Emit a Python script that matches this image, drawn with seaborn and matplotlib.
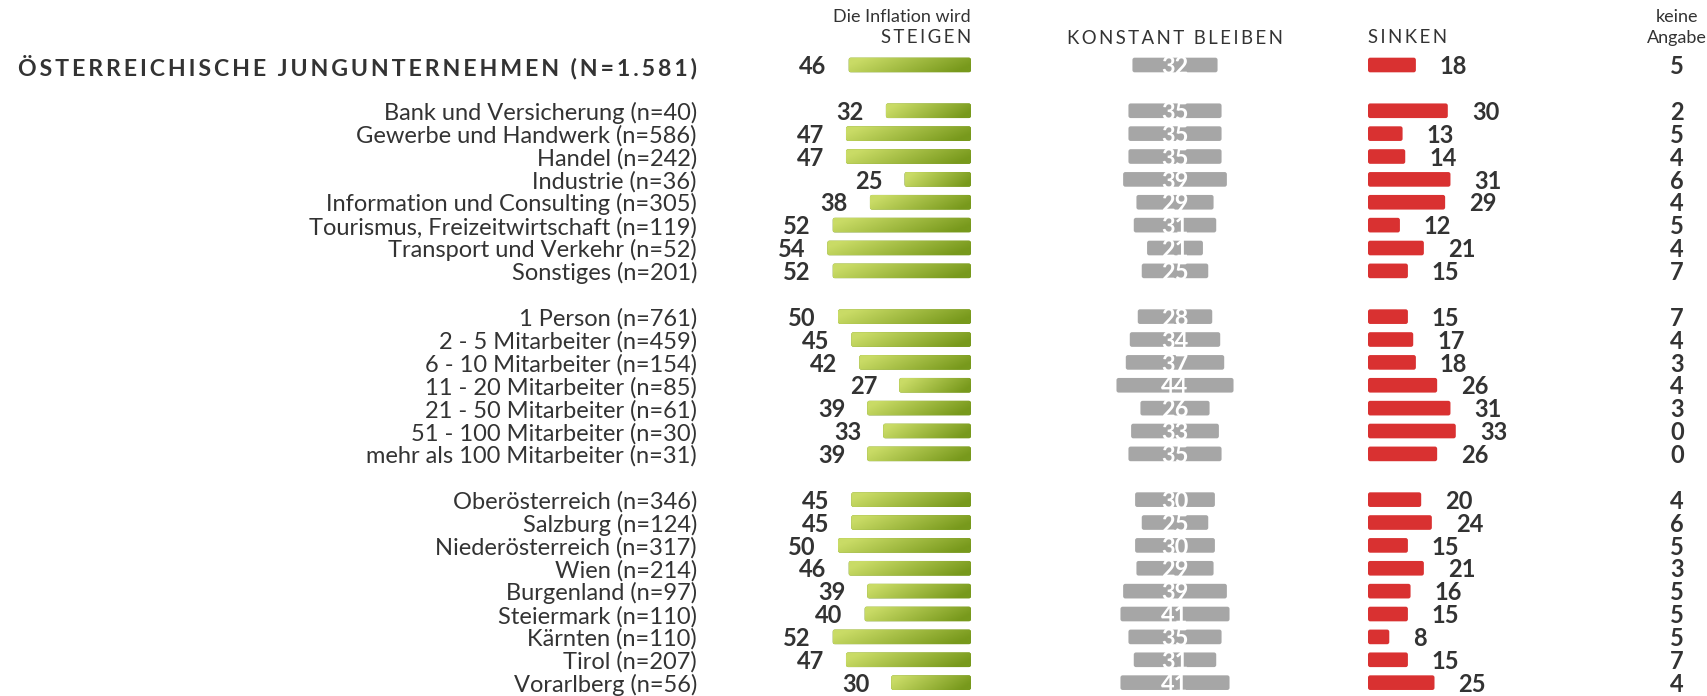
import numpy as np
import pandas as pd
import matplotlib
matplotlib.use("Agg")
import matplotlib.pyplot as plt
import seaborn as sns
from matplotlib.patches import FancyBboxPatch

# Werte aus der Grafik (Prozent)
total_labels = ["ÖSTERREICHISCHE JUNGUNTERNEHMEN (N=1.581)"]
total_steigen = [46]
total_konstant = [32]
total_sinken = [18]
total_keine = [5]

branche_labels = ["Bank und Versicherung (n=40)", "Gewerbe und Handwerk (n=586)",
                  "Handel (n=242)", "Industrie (n=36)",
                  "Information und Consulting (n=305)",
                  "Tourismus, Freizeitwirtschaft (n=119)",
                  "Transport und Verkehr (n=52)", "Sonstiges (n=201)"]
branche_steigen = [32, 47, 47, 25, 38, 52, 54, 52]
branche_konstant = [35, 35, 35, 39, 29, 31, 21, 25]
branche_sinken = [30, 13, 14, 31, 29, 12, 21, 15]
branche_keine = [2, 5, 4, 6, 4, 5, 4, 7]

groesse_labels = ["1 Person (n=761)", "2 - 5 Mitarbeiter (n=459)",
                  "6 - 10 Mitarbeiter (n=154)", "11 - 20 Mitarbeiter (n=85)",
                  "21 - 50 Mitarbeiter (n=61)", "51 - 100 Mitarbeiter (n=30)",
                  "mehr als 100 Mitarbeiter (n=31)"]
groesse_steigen = [50, 45, 42, 27, 39, 33, 39]
groesse_konstant = [28, 34, 37, 44, 26, 33, 35]
groesse_sinken = [15, 17, 18, 26, 31, 33, 26]
groesse_keine = [7, 4, 3, 4, 3, 0, 0]

land_labels = ["Oberösterreich (n=346)", "Salzburg (n=124)",
               "Niederösterreich (n=317)", "Wien (n=214)", "Burgenland (n=97)",
               "Steiermark (n=110)", "Kärnten (n=110)", "Tirol (n=207)",
               "Vorarlberg (n=56)"]
land_steigen = [45, 45, 50, 46, 39, 40, 52, 47, 30]
land_konstant = [30, 25, 30, 29, 39, 41, 35, 31, 41]
land_sinken = [20, 24, 15, 21, 16, 15, 8, 15, 25]
land_keine = [4, 6, 5, 3, 5, 5, 5, 7, 4]

groups = [
    (total_labels, total_steigen, total_konstant, total_sinken, total_keine),
    (branche_labels, branche_steigen, branche_konstant, branche_sinken, branche_keine),
    (groesse_labels, groesse_steigen, groesse_konstant, groesse_sinken, groesse_keine),
    (land_labels, land_steigen, land_konstant, land_sinken, land_keine),
]

# Zeilen mit Leerzeile zwischen den Gruppen
rows = []
pos = 0
for labels, st, ko, si, ke in groups:
    for i in range(len(labels)):
        rows.append(dict(label=labels[i], pos=pos, steigen=st[i],
                         konstant=ko[i], sinken=si[i], keine=ke[i]))
        pos += 1
    pos += 1
df = pd.DataFrame(rows)

# Layout in Pixeln
W, H = 1707, 696
PX = 2.66            # Pixel pro Prozentpunkt
ROW_PX = 22.876      # Pixel pro Zeile
ROW0 = 65.0          # y-Pixel der ersten Zeile
G_RIGHT = 971
K_CENTER = 1175
S_LEFT = 1368
N_CENTER = 1677
LABEL_RIGHT = 697
BAR_H = 0.64
BASE = 0.40          # Grundlinie der Zahlen unter Balkenmitte (Zeilen)

TEXT = "#333333"
GRAY = "#a6a6a6"
RED = "#d93131"
GREEN_LIGHT = np.array([0.79, 0.86, 0.40])
GREEN_DARK = np.array([0.47, 0.60, 0.11])

sns.set_theme(style="white")
plt.rcParams["font.family"] = ["Lato", "DejaVu Sans"]


def spaced(s):
    return "\u2009".join(s)


def row_y(px):
    return (px - ROW0) / ROW_PX


fig = plt.figure(figsize=(W / 100, H / 100), dpi=100)
g_w = 180
ax_g = fig.add_axes([(G_RIGHT - g_w) / W, 0, g_w / W, 1])
ax_k = fig.add_axes([(K_CENTER - 100) / W, 0, 200 / W, 1])
ax_s = fig.add_axes([S_LEFT / W, 0, 200 / W, 1])
ax_n = fig.add_axes([(N_CENTER - 30) / W, 0, 60 / W, 1])

for ax, col in [(ax_g, "steigen"), (ax_k, "konstant"), (ax_s, "sinken")]:
    sns.barplot(data=df, x=col, y="pos", orient="h", native_scale=True,
                width=BAR_H, color=GRAY, errorbar=None, ax=ax)

asp = PX / ROW_PX
r = 2.2 / PX


def round_bars(ax, color, center=False):
    new = []
    for p in list(ax.patches):
        x, y, w, h = p.get_x(), p.get_y(), p.get_width(), p.get_height()
        p.remove()
        if center:
            x = -w / 2
        fb = FancyBboxPatch((x, y), w, h, boxstyle=f"round,pad=0,rounding_size={min(r, w / 2)}",
                            mutation_aspect=asp, facecolor=color, edgecolor="none")
        ax.add_patch(fb)
        new.append((fb, x, y, w, h))
    return new


green_bars = round_bars(ax_g, GREEN_DARK)
round_bars(ax_k, GRAY, center=True)
round_bars(ax_s, RED)

# Verlauf hell -> dunkel in jedem grünen Balken
nx, ny = 128, 8
u = np.linspace(0, 1, nx)[None, :] + 0.12 * np.linspace(-1, 1, ny)[:, None]
u = np.clip(u, 0, 1)
grad = GREEN_LIGHT[None, None, :] * (1 - u[..., None]) + GREEN_DARK[None, None, :] * u[..., None]
for fb, x, y, w, h in green_bars:
    im = ax_g.imshow(grad, extent=(x + w, x, y + h, y), aspect="auto",
                     interpolation="bilinear", zorder=fb.get_zorder() + 0.1)
    im.set_clip_path(fb)

ax_g.set_xlim(g_w / PX, 0)
ax_k.set_xlim(-100 / PX, 100 / PX)
ax_s.set_xlim(0, 200 / PX)
ax_n.set_xlim(0, 1)

for ax in (ax_g, ax_k, ax_s, ax_n):
    ax.set_ylim((H - ROW0) / ROW_PX, -ROW0 / ROW_PX)
    ax.set_xlabel("")
    ax.set_ylabel("")
    ax.set_xticks([])
    ax.set_yticks([])
    sns.despine(ax=ax, left=True, bottom=True)
    ax.patch.set_alpha(0)

# Zeilenbeschriftungen
label_x = (G_RIGHT - LABEL_RIGHT) / PX
for i, row in df.iterrows():
    if i == 0:
        ax_g.text(label_x, row.pos + 0.44, spaced(row.label), ha="right", va="baseline",
                  fontsize=16.7, fontweight="bold", color=TEXT, clip_on=False)
    else:
        ax_g.text(label_x, row.pos + BASE, row.label, ha="right", va="baseline",
                  fontsize=17, color=TEXT, clip_on=False)

num_kw = dict(fontsize=17, fontweight="bold", color=TEXT, va="baseline", clip_on=False)
for _, row in df.iterrows():
    y = row.pos + BASE
    ax_g.text(row.steigen + 22 / PX, y, str(row.steigen), ha="right", **num_kw)
    ax_k.text(0, y, str(row.konstant), ha="center", fontsize=17,
              fontweight="bold", color="white", va="baseline")
    ax_s.text(row.sinken + 24 / PX, y, str(row.sinken), ha="left", **num_kw)
    ax_n.text(0.5, y, str(row.keine), ha="center", **num_kw)

# Spaltenköpfe
head_kw = dict(color=TEXT, va="baseline", clip_on=False)
ax_g.text(0, row_y(21.7), "Die Inflation wird", ha="right", fontsize=13, **head_kw)
ax_g.text(0, row_y(43.3), spaced("STEIGEN"), ha="right", fontsize=13.4, **head_kw)
ax_k.text(0, row_y(44.5), spaced("KONSTANT BLEIBEN"), ha="center", fontsize=13.4, **head_kw)
ax_s.text(0, row_y(43.3), spaced("SINKEN"), ha="left", fontsize=13.4, **head_kw)
ax_n.text(0.5, row_y(21.7), "keine", ha="center", fontsize=13, **head_kw)
ax_n.text(0.5, row_y(43.3), "Angabe", ha="center", fontsize=13, **head_kw)

fig.savefig("out.png", dpi=100, facecolor="white")
